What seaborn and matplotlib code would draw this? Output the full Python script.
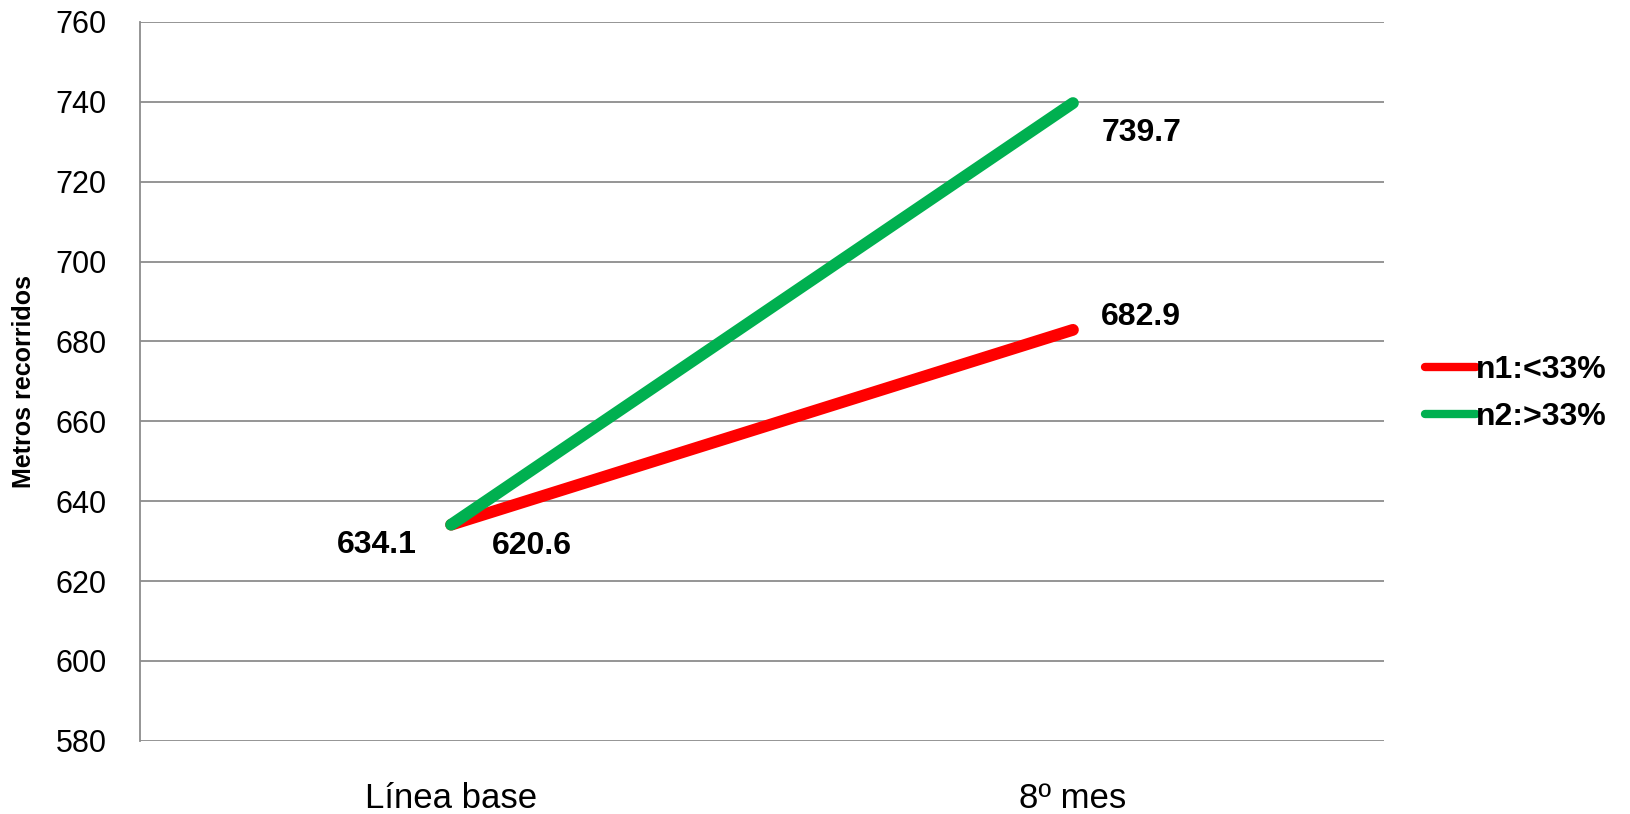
import pandas as pd
import seaborn as sns
import matplotlib.pyplot as plt

# datos
momentos = ['Línea base', '8º mes']
grupos = ['n1:<33%', 'n2:>33%']
n1_valores = [634.1, 682.9]
n2_valores = [634.1, 739.7]
etiquetas_n1 = ['620.6', '682.9']
etiquetas_n2 = ['634.1', '739.7']
colores = ['#ff0000', '#00b050']

df = pd.DataFrame({
    'momento': momentos * 2,
    'grupo': [grupos[0]] * 2 + [grupos[1]] * 2,
    'metros': n1_valores + n2_valores,
})
df['x'] = [0, 1, 0, 1]

sns.set_style('white')
plt.rcParams['font.family'] = ['Liberation Sans', 'DejaVu Sans']
plt.rcParams['text.color'] = 'black'
plt.rcParams['xtick.color'] = 'black'
plt.rcParams['ytick.color'] = 'black'
plt.rcParams['axes.labelcolor'] = 'black'

fig, ax = plt.subplots(figsize=(16.3, 8.14), dpi=100)
fig.subplots_adjust(left=0.086, right=0.849, top=0.973, bottom=0.09)

sns.lineplot(data=df, x='x', y='metros', hue='grupo', palette=colores,
             linewidth=8.5, solid_capstyle='round', ax=ax, legend=True)

ax.set_xlim(-0.5, 1.5)
ax.set_ylim(580, 760)
ax.set_yticks(range(580, 761, 20))
ax.set_xticks([0, 1])
ax.set_xticklabels(momentos)
ax.tick_params(axis='y', labelsize=22, length=0, pad=24)
ax.tick_params(axis='x', labelsize=25, length=0, pad=30)
ax.yaxis.grid(True, color='#8c8c8c', linewidth=1.3)
for s in ['top', 'right', 'bottom']:
    ax.spines[s].set_visible(False)
ax.spines['left'].set_color('#8c8c8c')
ax.spines['left'].set_linewidth(1.3)
ax.set_xlabel('')
ax.set_ylabel('Metros recorridos', fontsize=18, fontweight='bold')
ax.yaxis.set_label_coords(-0.084, 0.5)

# etiquetas de valores
ax.text(-0.12, 629, etiquetas_n2[0], ha='center', va='center', fontsize=23, fontweight='bold')
ax.text(0.13, 628.8, etiquetas_n1[0], ha='center', va='center', fontsize=23, fontweight='bold')
ax.text(1.11, 732.2, etiquetas_n2[1], ha='center', va='center', fontsize=23, fontweight='bold')
ax.text(1.11, 686, etiquetas_n1[1], ha='center', va='center', fontsize=23, fontweight='bold')

leg = ax.legend(loc='center left', bbox_to_anchor=(1.01, 0.483), frameon=False,
                handlelength=1.6, handletextpad=0.0, labelspacing=0.55,
                prop={'size': 23, 'weight': 'bold'})
for h in leg.get_lines():
    h.set_linewidth(6)
    h.set_solid_capstyle('round')

plt.savefig('out.png', dpi=100)
